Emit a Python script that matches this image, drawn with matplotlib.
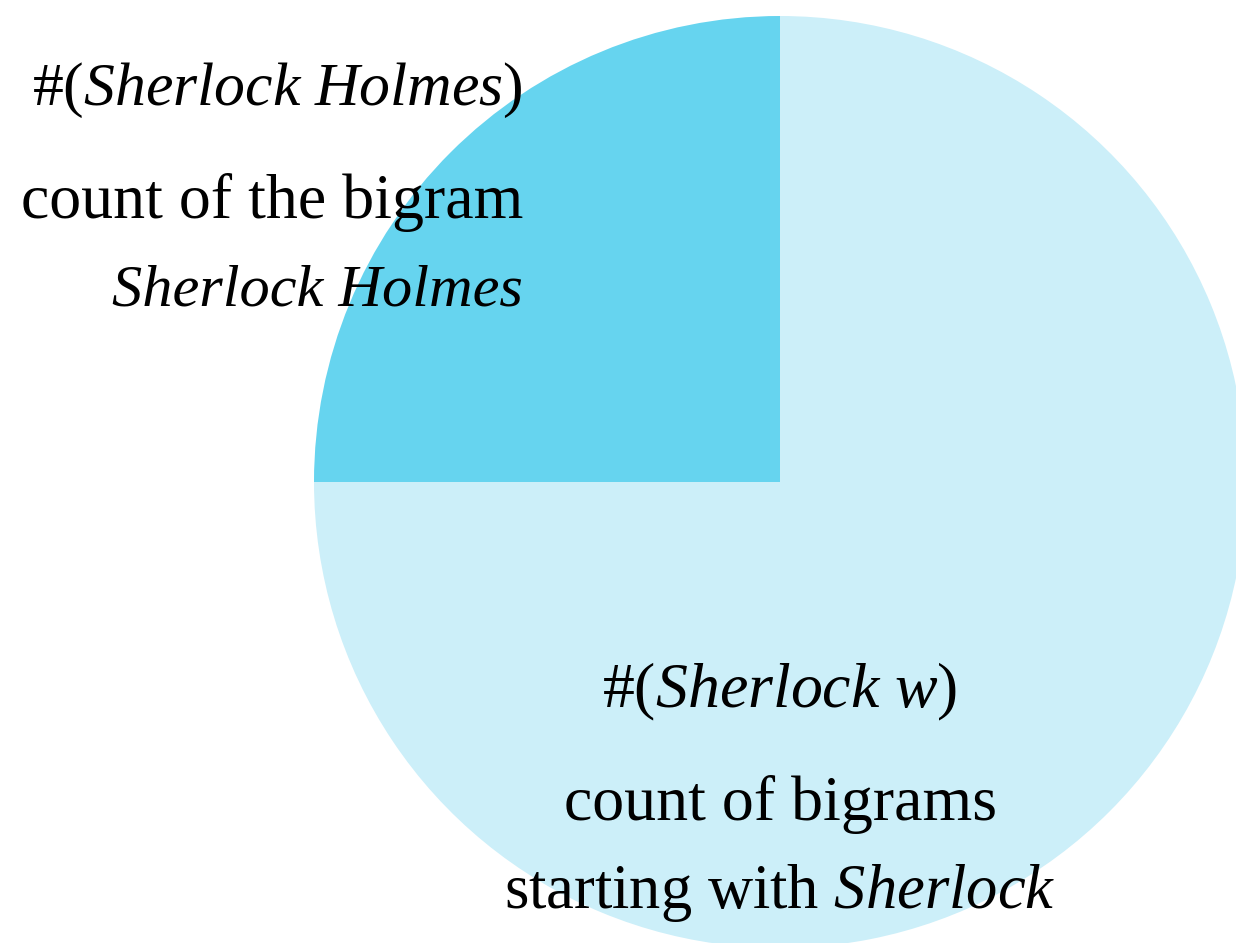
import matplotlib
matplotlib.use("Agg")
import matplotlib.pyplot as plt

plt.rcParams['font.family'] = ['Liberation Serif', 'DejaVu Serif']
plt.rcParams['mathtext.fontset'] = 'custom'
plt.rcParams['mathtext.rm'] = 'Liberation Serif'
plt.rcParams['mathtext.it'] = 'Liberation Serif:italic'

labels = ["Sherlock Holmes", "Sherlock w (other)"]
values = [25, 75]
colors = ["#66D4EF", "#CCEFF9"]

W, H = 1236, 943
fig = plt.figure(figsize=(W / 100, H / 100), dpi=100)
ax = fig.add_axes([0, 0, 1, 1])

ax.pie(values, colors=colors, startangle=90, counterclock=True,
       center=(780, H - 482), radius=466, frame=True,
       wedgeprops=dict(linewidth=0))
ax.set_xlim(0, W)
ax.set_ylim(0, H)
ax.set_aspect('equal')
ax.axis('off')

fs = 46
ax.text(523, H - 90, r"#($\it{Sherlock\ Holmes}$)", ha='right', va='center', fontsize=44.5)
ax.text(523, H - 203, "count of the bigram", ha='right', va='center', fontsize=fs)
ax.text(523, H - 292, "Sherlock Holmes", ha='right', va='center', fontsize=43.5, style='italic')

ax.text(780, H - 692, r"#($\it{Sherlock\ w}$)", ha='center', va='center', fontsize=fs)
ax.text(780, H - 805, "count of bigrams", ha='center', va='center', fontsize=fs)
ax.text(780, H - 893, r"starting with $\it{Sherlock}$", ha='center', va='center', fontsize=45)

fig.savefig("out.png", dpi=100)
